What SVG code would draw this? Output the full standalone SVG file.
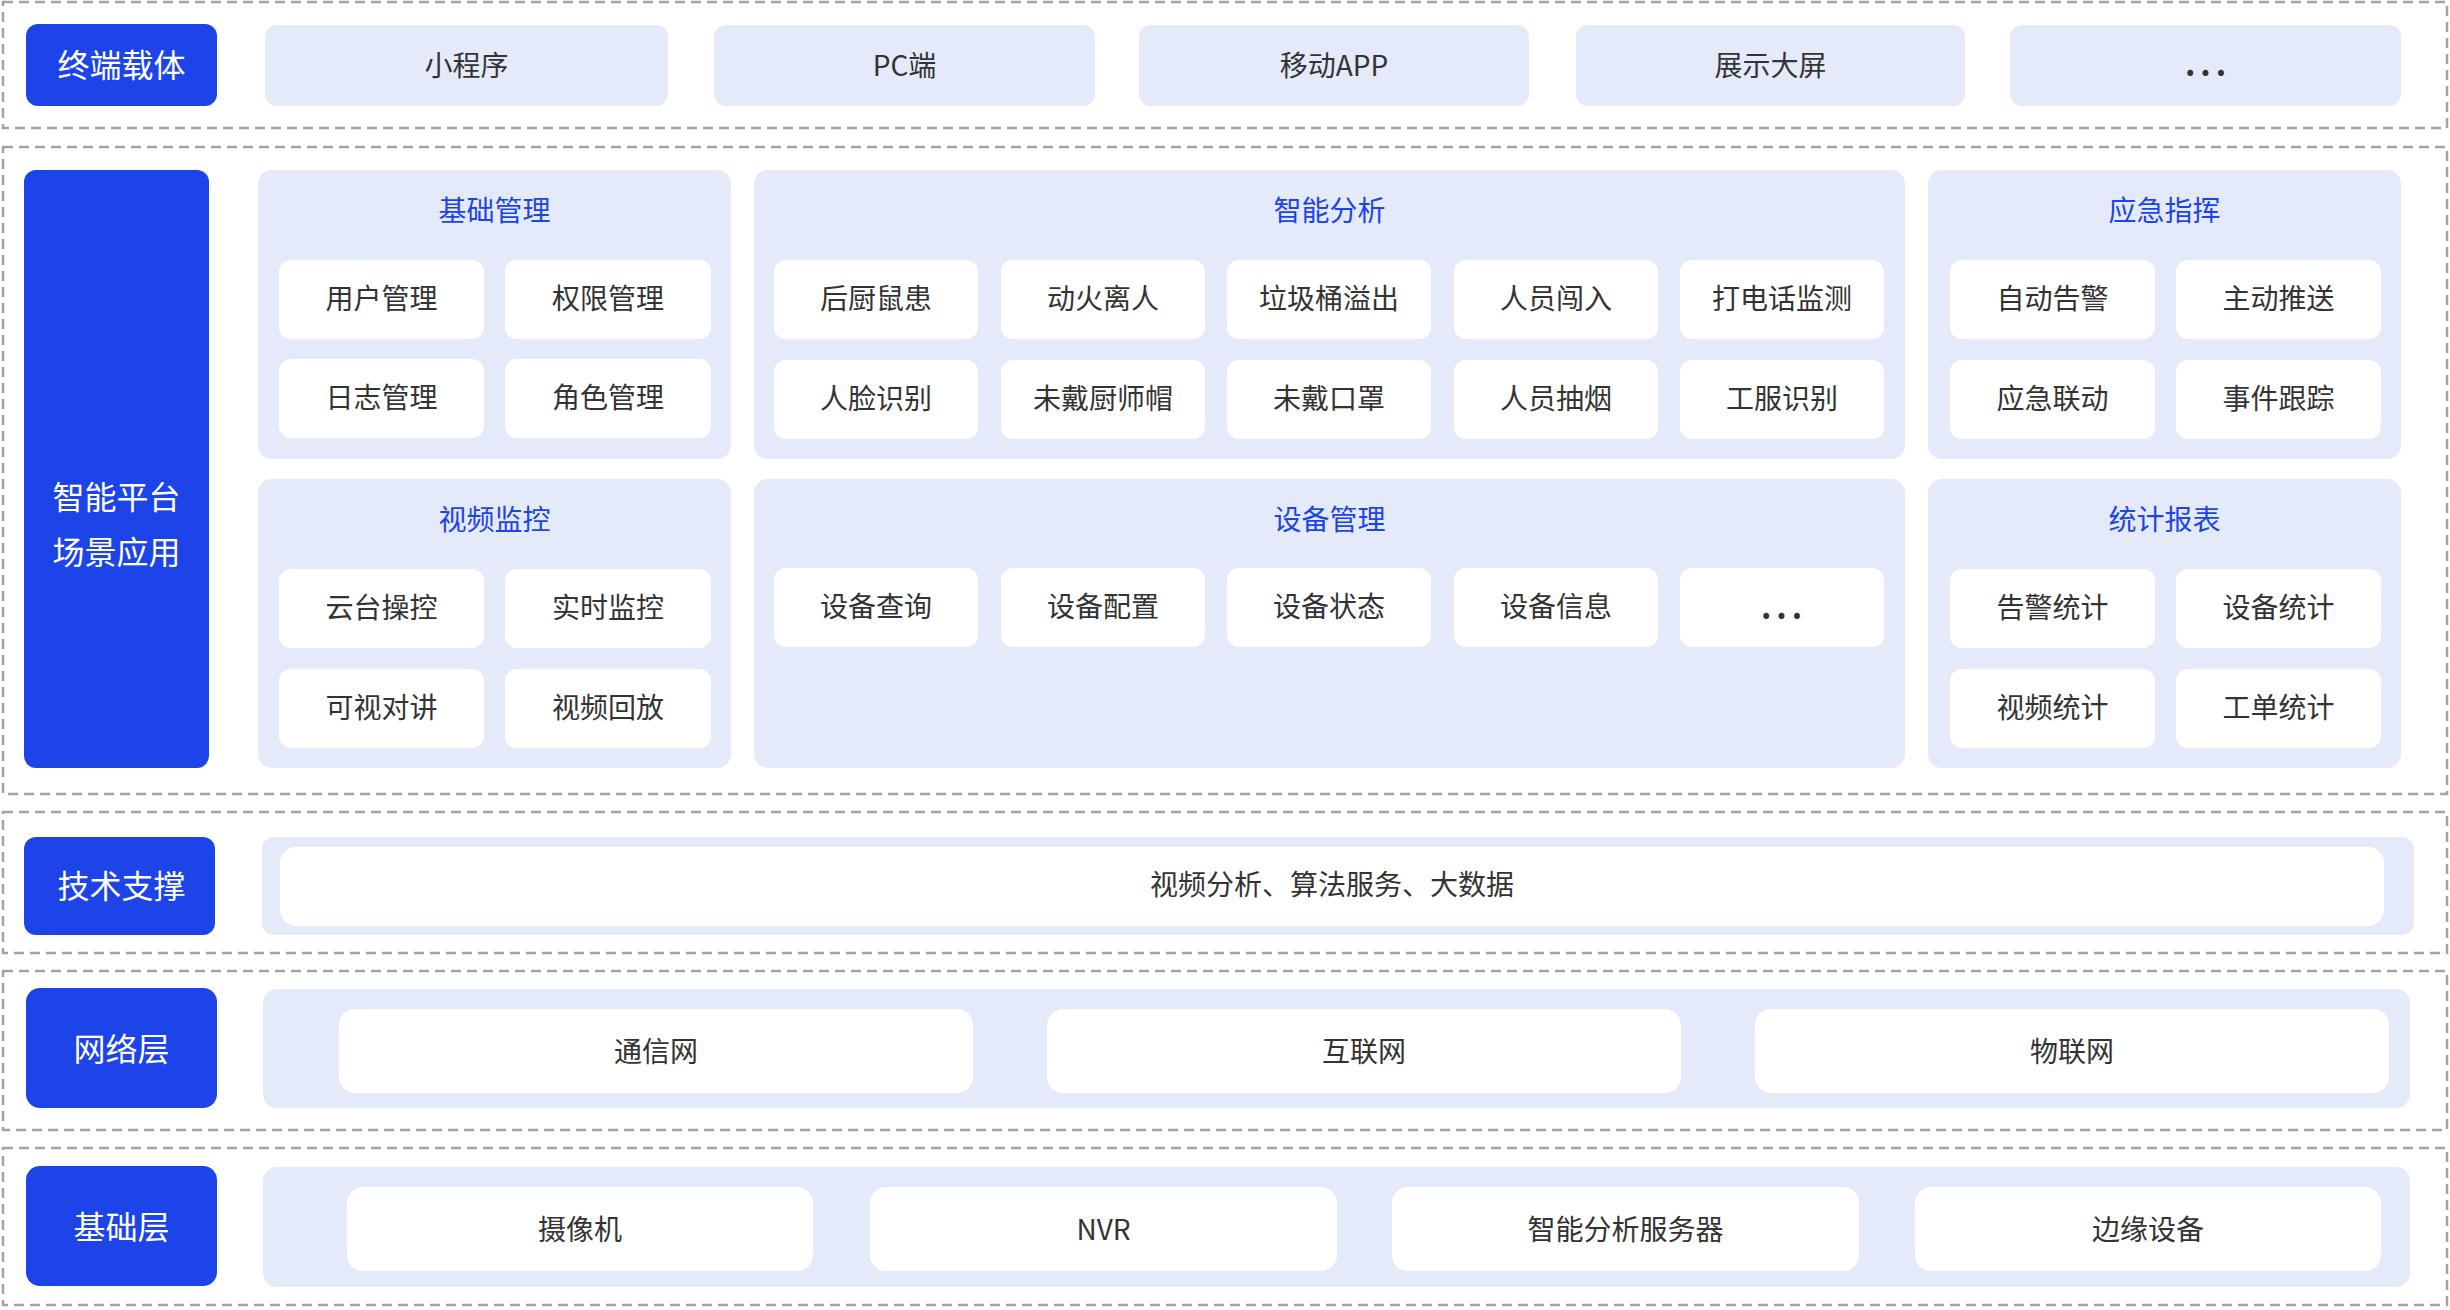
<svg xmlns="http://www.w3.org/2000/svg" width="2450" height="1310" viewBox="0 0 2450 1310">
<style>
.sec{fill:none;stroke:#a3a3a3;stroke-width:2.5;stroke-dasharray:10 6}
.lab{fill:#1c44e8}
.bg{fill:#e5eafb}
.it{fill:#ffffff}
text{font-family:"Noto Sans CJK SC","Noto Sans",sans-serif;text-anchor:middle;dominant-baseline:central}
.lt{fill:#ffffff;font-size:32px}
.tt{fill:#1c44e8;font-size:28px}
.t{fill:#333333;font-size:28px}
.dots{fill:#333333;font-size:32px;font-weight:bold;letter-spacing:5px}
</style>
<rect width="2450" height="1310" fill="#ffffff"/>
<g id="sections">
<rect class="sec" x="3" y="2" width="2444" height="126"/>
<rect class="sec" x="3" y="147" width="2444" height="647"/>
<rect class="sec" x="3" y="812" width="2444" height="141"/>
<rect class="sec" x="3" y="971" width="2444" height="159"/>
<rect class="sec" x="3" y="1148" width="2444" height="157"/>
</g>
<g id="connectors"></g>
<g id="layer-terminal">
<g id="terminal-label"><rect class="lab" x="26" y="24" width="191" height="82" rx="12"/><text class="lt" x="121.5" y="63">终端载体</text></g>
<g id="t-mini"><rect class="bg" x="265" y="25" width="403" height="81" rx="12"/><text class="t" x="466.5" y="64">小程序</text></g>
<g id="t-pc"><rect class="bg" x="714" y="25" width="381" height="81" rx="12"/><text class="t" x="904.5" y="64">PC端</text></g>
<g id="t-app"><rect class="bg" x="1139" y="25" width="390" height="81" rx="12"/><text class="t" x="1334" y="64">移动APP</text></g>
<g id="t-screen"><rect class="bg" x="1576" y="25" width="389" height="81" rx="12"/><text class="t" x="1770.5" y="64">展示大屏</text></g>
<g id="t-more"><rect class="bg" x="2010" y="25" width="391" height="81" rx="12"/><text class="dots" x="2208" y="62">...</text></g>
</g>
<g id="layer-platform">
<g id="platform-label"><rect class="lab" x="24" y="170" width="185" height="598" rx="12"/><text class="lt" x="116.5" y="495">智能平台</text><text class="lt" x="116.5" y="550">场景应用</text></g>
<g id="basic-mgmt"><rect class="bg" x="258" y="170" width="473" height="289" rx="14"/><text class="tt" x="494.5" y="209">基础管理</text>
<rect class="it" x="279" y="260" width="205" height="79" rx="12"/><text class="t" x="381.5" y="297">用户管理</text>
<rect class="it" x="505" y="260" width="206" height="79" rx="12"/><text class="t" x="608" y="297">权限管理</text>
<rect class="it" x="279" y="359" width="205" height="79" rx="12"/><text class="t" x="381.5" y="396">日志管理</text>
<rect class="it" x="505" y="359" width="206" height="79" rx="12"/><text class="t" x="608" y="396">角色管理</text></g>
<g id="smart-analysis"><rect class="bg" x="754" y="170" width="1151" height="289" rx="14"/><text class="tt" x="1329.5" y="209">智能分析</text>
<rect class="it" x="774" y="260" width="204" height="79" rx="12"/><text class="t" x="876" y="297">后厨鼠患</text>
<rect class="it" x="1001" y="260" width="204" height="79" rx="12"/><text class="t" x="1103" y="297">动火离人</text>
<rect class="it" x="1227" y="260" width="204" height="79" rx="12"/><text class="t" x="1329" y="297">垃圾桶溢出</text>
<rect class="it" x="1454" y="260" width="204" height="79" rx="12"/><text class="t" x="1556" y="297">人员闯入</text>
<rect class="it" x="1680" y="260" width="204" height="79" rx="12"/><text class="t" x="1782" y="297">打电话监测</text>
<rect class="it" x="774" y="360" width="204" height="79" rx="12"/><text class="t" x="876" y="397">人脸识别</text>
<rect class="it" x="1001" y="360" width="204" height="79" rx="12"/><text class="t" x="1103" y="397">未戴厨师帽</text>
<rect class="it" x="1227" y="360" width="204" height="79" rx="12"/><text class="t" x="1329" y="397">未戴口罩</text>
<rect class="it" x="1454" y="360" width="204" height="79" rx="12"/><text class="t" x="1556" y="397">人员抽烟</text>
<rect class="it" x="1680" y="360" width="204" height="79" rx="12"/><text class="t" x="1782" y="397">工服识别</text></g>
<g id="emergency"><rect class="bg" x="1928" y="170" width="473" height="289" rx="14"/><text class="tt" x="2164.5" y="209">应急指挥</text>
<rect class="it" x="1950" y="260" width="205" height="79" rx="12"/><text class="t" x="2052.5" y="297">自动告警</text>
<rect class="it" x="2176" y="260" width="205" height="79" rx="12"/><text class="t" x="2278.5" y="297">主动推送</text>
<rect class="it" x="1950" y="360" width="205" height="79" rx="12"/><text class="t" x="2052.5" y="397">应急联动</text>
<rect class="it" x="2176" y="360" width="205" height="79" rx="12"/><text class="t" x="2278.5" y="397">事件跟踪</text></g>
<g id="video-monitor"><rect class="bg" x="258" y="479" width="473" height="289" rx="14"/><text class="tt" x="494.5" y="518">视频监控</text>
<rect class="it" x="279" y="569" width="205" height="79" rx="12"/><text class="t" x="381.5" y="606">云台操控</text>
<rect class="it" x="505" y="569" width="206" height="79" rx="12"/><text class="t" x="608" y="606">实时监控</text>
<rect class="it" x="279" y="669" width="205" height="79" rx="12"/><text class="t" x="381.5" y="706">可视对讲</text>
<rect class="it" x="505" y="669" width="206" height="79" rx="12"/><text class="t" x="608" y="706">视频回放</text></g>
<g id="device-mgmt"><rect class="bg" x="754" y="479" width="1151" height="289" rx="14"/><text class="tt" x="1329.5" y="518">设备管理</text>
<rect class="it" x="774" y="568" width="204" height="79" rx="12"/><text class="t" x="876" y="605">设备查询</text>
<rect class="it" x="1001" y="568" width="204" height="79" rx="12"/><text class="t" x="1103" y="605">设备配置</text>
<rect class="it" x="1227" y="568" width="204" height="79" rx="12"/><text class="t" x="1329" y="605">设备状态</text>
<rect class="it" x="1454" y="568" width="204" height="79" rx="12"/><text class="t" x="1556" y="605">设备信息</text>
<rect class="it" x="1680" y="568" width="204" height="79" rx="12"/><text class="dots" x="1784" y="605">...</text></g>
<g id="statistics"><rect class="bg" x="1928" y="479" width="473" height="289" rx="14"/><text class="tt" x="2164.5" y="518">统计报表</text>
<rect class="it" x="1950" y="569" width="205" height="79" rx="12"/><text class="t" x="2052.5" y="606">告警统计</text>
<rect class="it" x="2176" y="569" width="205" height="79" rx="12"/><text class="t" x="2278.5" y="606">设备统计</text>
<rect class="it" x="1950" y="669" width="205" height="79" rx="12"/><text class="t" x="2052.5" y="706">视频统计</text>
<rect class="it" x="2176" y="669" width="205" height="79" rx="12"/><text class="t" x="2278.5" y="706">工单统计</text></g>
</g>
<g id="layer-tech">
<g id="tech-label"><rect class="lab" x="24" y="837" width="191" height="98" rx="12"/><text class="lt" x="121.5" y="884">技术支撑</text></g>
<g id="tech-content"><rect class="bg" x="262" y="837" width="2152" height="98" rx="12"/><rect class="it" x="280" y="847" width="2104" height="79" rx="16"/><text class="t" x="1332" y="883">视频分析、算法服务、大数据</text></g>
</g>
<g id="layer-network">
<g id="net-label"><rect class="lab" x="26" y="988" width="191" height="120" rx="14"/><text class="lt" x="121.5" y="1047">网络层</text></g>
<g id="net-content"><rect class="bg" x="263" y="989" width="2147" height="119" rx="14"/>
<rect class="it" x="339" y="1009" width="634" height="84" rx="16"/><text class="t" x="656" y="1050">通信网</text>
<rect class="it" x="1047" y="1009" width="634" height="84" rx="16"/><text class="t" x="1364" y="1050">互联网</text>
<rect class="it" x="1755" y="1009" width="634" height="84" rx="16"/><text class="t" x="2072" y="1050">物联网</text></g>
</g>
<g id="layer-base">
<g id="base-label"><rect class="lab" x="26" y="1166" width="191" height="120" rx="14"/><text class="lt" x="121.5" y="1225">基础层</text></g>
<g id="base-content"><rect class="bg" x="263" y="1167" width="2147" height="120" rx="14"/>
<rect class="it" x="347" y="1187" width="466" height="84" rx="16"/><text class="t" x="580" y="1228">摄像机</text>
<rect class="it" x="870" y="1187" width="467" height="84" rx="16"/><text class="t" x="1103.5" y="1228">NVR</text>
<rect class="it" x="1392" y="1187" width="467" height="84" rx="16"/><text class="t" x="1625.5" y="1228">智能分析服务器</text>
<rect class="it" x="1915" y="1187" width="466" height="84" rx="16"/><text class="t" x="2148" y="1228">边缘设备</text></g>
</g>
</svg>
